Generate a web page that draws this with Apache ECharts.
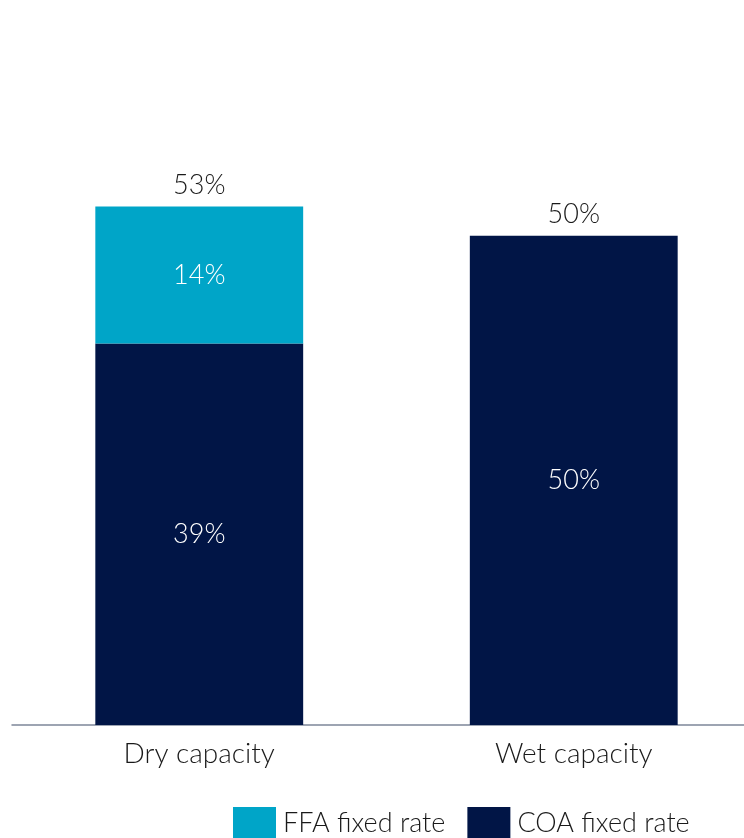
<!DOCTYPE html>
<html>
<head>
<meta charset="utf-8">
<script src="https://cdn.jsdelivr.net/npm/echarts@6/dist/echarts.min.js"></script>
<style>
  html, body { margin: 0; padding: 0; background: #fff; }
  #chart { width: 744px; height: 838px; }
</style>
</head>
<body>
<div id="chart"></div>
<script>
// Fixed-rate coverage by segment
const categories = ['Dry capacity', 'Wet capacity'];
const coaFixed = [39, 50];
const ffaFixed = [14, null];
const totals = [53, 50];

const FONT = 'Lato, "Open Sans", sans-serif';
const chart = echarts.init(document.getElementById('chart'));

chart.setOption({
  animation: false,
  textStyle: { fontFamily: FONT, fontWeight: 300 },
  grid: {
    left: 12, top: 138, right: -17, height: 587,
    containLabel: false,
    outerBoundsMode: 'none'
  },
  legend: {
    data: ['FFA fixed rate', 'COA fixed rate'],
    top: 802,
    left: 228,
    itemWidth: 43,
    itemHeight: 32,
    itemGap: 22,
    icon: 'rect',
    textStyle: { fontSize: 27, color: '#1a1a1a', fontFamily: FONT, fontWeight: 300, padding: [0, 0, 0, 2] }
  },
  xAxis: {
    type: 'category',
    data: categories,
    axisLine: { show: true, lineStyle: { color: '#7d8799', width: 1.5 } },
    axisTick: { show: false },
    axisLabel: { fontSize: 28, color: '#1a1a1a', margin: 15, fontFamily: FONT, fontWeight: 300 }
  },
  yAxis: {
    type: 'value',
    min: 0,
    max: 60,
    show: false,
    splitLine: { show: false }
  },
  series: [
    {
      name: 'COA fixed rate',
      type: 'bar',
      stack: 'fixed',
      barWidth: '55.5%',
      data: coaFixed,
      itemStyle: { color: '#011546' },
      label: {
        show: true, position: 'inside', formatter: '{c}%',
        color: '#ffffff', fontSize: 27, fontFamily: FONT, fontWeight: 300
      }
    },
    {
      name: 'FFA fixed rate',
      type: 'bar',
      stack: 'fixed',
      barWidth: '55.5%',
      data: ffaFixed,
      itemStyle: { color: '#00a5c8' },
      label: {
        show: true, position: 'inside', formatter: '{c}%',
        color: '#ffffff', fontSize: 27, fontFamily: FONT, fontWeight: 300
      }
    },
    {
      name: 'Total',
      type: 'bar',
      barWidth: '55.5%',
      barGap: '-100%',
      data: totals,
      z: 0,
      silent: true,
      itemStyle: { color: 'rgba(0,0,0,0)' },
      label: {
        show: true, position: 'top', distance: 8, formatter: '{c}%',
        color: '#1a1a1a', fontSize: 27, fontFamily: FONT, fontWeight: 300
      }
    }
  ]
});
</script>
</body>
</html>
